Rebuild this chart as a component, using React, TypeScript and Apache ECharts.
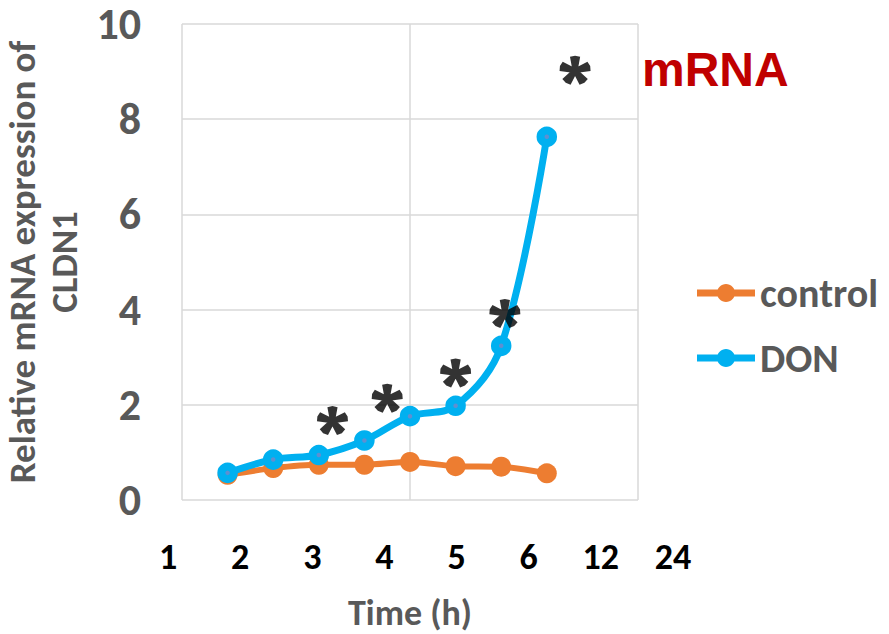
import React, { useEffect, useRef } from "react";
import * as echarts from "echarts";

// ---- data ----
const timeLabels = ["1", "2", "3", "4", "5", "6", "12", "24"];
const timeIndex = [1, 2, 3, 4, 5, 6, 7, 8];
const controlValues = [0.53, 0.67, 0.74, 0.74, 0.8, 0.71, 0.7, 0.56];
const donValues = [0.57, 0.85, 0.945, 1.25, 1.76, 1.98, 3.24, 7.63];
const starX = [3.3, 4.5, 6.0, 7.08, 8.62];
const starY = [1.67, 2.14, 2.67, 3.92, 9.03];

const FONT = "Carlito, Lato, sans-serif";
const WEIGHT = "bold";
const GRID_COLOR = "#D9D9D9";
const LABEL_GRAY = "#595959";

type Pt = number[];

function toPath(polys: Pt[][]): string {
  const area = (p: Pt[]) => {
    let s = 0;
    for (let i = 0; i < p.length; i++) {
      const a = p[i];
      const b = p[(i + 1) % p.length];
      s += a[0] * b[1] - b[0] * a[1];
    }
    return s;
  };
  return polys
    .map((p) => (area(p) < 0 ? p.slice().reverse() : p))
    .map(
      (p) =>
        "M" +
        p.map((q) => q[0].toFixed(2) + " " + q[1].toFixed(2)).join(" L") +
        " Z"
    )
    .join(" ");
}

function circlePoly(cx: number, cy: number, r: number, n: number): Pt[] {
  const out: Pt[] = [];
  for (let k = 0; k < n; k++) {
    const t = (k * 2 * Math.PI) / n;
    out.push([cx + Math.cos(t) * r, cy + Math.sin(t) * r]);
  }
  return out;
}

function asteriskPath(): string {
  const cx = 50;
  const cy = 50;
  const polys: Pt[][] = [];
  for (let k = 0; k < 5; k++) {
    const t = (k * 72 * Math.PI) / 180;
    const dx = Math.sin(t);
    const dy = -Math.cos(t);
    const px = Math.cos(t);
    const py = Math.sin(t);
    const near = 8;
    const far = 16;
    const L = 46;
    polys.push([
      [cx + px * near, cy + py * near],
      [cx + dx * L + px * far, cy + dy * L + py * far],
      [cx + dx * (L + 4), cy + dy * (L + 4)],
      [cx + dx * L - px * far, cy + dy * L - py * far],
      [cx - px * near, cy - py * near],
    ]);
  }
  polys.push(circlePoly(cx, cy, 14, 20));
  return toPath(polys);
}

// legend icon: horizontal bar with a disc in the middle (58 x 18 box)
function legendIconPath(): string {
  const bar: Pt[] = [
    [0, 5.5],
    [58, 5.5],
    [58, 12.5],
    [0, 12.5],
  ];
  return toPath([bar, circlePoly(29, 9, 9, 32)]);
}

export default function App() {
  const ref = useRef<HTMLDivElement>(null);

  useEffect(() => {
    if (!ref.current) return;
    const chart = echarts.init(ref.current, null, { renderer: "svg" });
    const star = "path://" + asteriskPath();
    const legendIcon = "path://" + legendIconPath();

    const option: any = {
      animation: false,
      backgroundColor: "#ffffff",
      title: {
        text: "mRNA",
        left: 642,
        top: 45,
        padding: 0,
        textStyle: {
          color: "#C00000",
          fontSize: 48,
          fontWeight: "bold",
          fontFamily: "Liberation Sans",
        },
      },
      legend: {
        orient: "vertical",
        left: 697,
        top: 273,
        padding: 0,
        itemWidth: 58,
        itemHeight: 18,
        itemGap: 25,
        icon: legendIcon,
        textStyle: {
          fontFamily: FONT,
          fontWeight: WEIGHT,
          fontSize: 40,
          lineHeight: 40,
          color: LABEL_GRAY,
        },
        data: [
          { name: "control", icon: legendIcon, itemStyle: { color: "#ED7D31", borderWidth: 0 } },
          { name: "DON", icon: legendIcon, itemStyle: { color: "#00B0F0", borderWidth: 0 } },
        ],
      },
      grid: [
        {
          left: 182,
          top: 24,
          width: 456,
          height: 476,
          containLabel: false,
          outerBoundsMode: "none",
        },
        {
          left: 132,
          top: 520,
          width: 577,
          height: 20,
          containLabel: false,
          outerBoundsMode: "none",
        },
      ],
      xAxis: [
        {
          gridIndex: 0,
          type: "value",
          min: 0,
          max: 10,
          interval: 5,
          axisLine: { show: false },
          axisTick: { show: false },
          axisLabel: { show: false },
          splitLine: { show: true, lineStyle: { color: GRID_COLOR, width: 1.5 } },
          name: "Time (h)",
          nameLocation: "middle",
          nameGap: 96,
          nameTextStyle: {
            fontFamily: FONT,
            fontWeight: WEIGHT,
            fontSize: 36,
            lineHeight: 34,
            color: LABEL_GRAY,
          },
        },
        {
          gridIndex: 1,
          type: "category",
          data: timeLabels,
          boundaryGap: true,
          axisLine: { show: false },
          axisTick: { show: false },
          splitLine: { show: false },
          axisLabel: {
            margin: 17,
            verticalAlign: "middle",
            color: "#000000",
            fontSize: 36,
            fontWeight: WEIGHT,
            fontFamily: FONT,
          },
        },
      ],
      yAxis: [
        {
          gridIndex: 0,
          type: "value",
          min: 0,
          max: 10,
          interval: 2,
          axisLine: { show: false },
          axisTick: { show: false },
          axisLabel: {
            margin: 41,
            color: LABEL_GRAY,
            fontSize: 44,
            lineHeight: 36,
            fontWeight: WEIGHT,
            fontFamily: FONT,
          },
          splitLine: { show: true, lineStyle: { color: GRID_COLOR, width: 1.5 } },
          name: "Relative mRNA expression of\nCLDN1",
          nameLocation: "middle",
          nameRotate: 90,
          nameGap: 89,
          nameTextStyle: {
            fontFamily: FONT,
            fontWeight: WEIGHT,
            fontSize: 37,
            lineHeight: 42,
            color: LABEL_GRAY,
            align: "center",
          },
        },
        { gridIndex: 1, type: "value", show: false, min: 0, max: 1 },
      ],
      series: [
        {
          name: "control",
          type: "line",
          xAxisIndex: 0,
          yAxisIndex: 0,
          data: timeIndex.map((x, i) => [x, controlValues[i]]),
          smooth: 0.3,
          symbol: "circle",
          symbolSize: 20,
          lineStyle: { color: "#ED7D31", width: 6 },
          itemStyle: { color: "#ED7D31" },
          z: 2,
        },
        {
          name: "DON",
          type: "line",
          xAxisIndex: 0,
          yAxisIndex: 0,
          data: timeIndex.map((x, i) => [x, donValues[i]]),
          smooth: 0.35,
          symbol: "circle",
          symbolSize: 12.5,
          lineStyle: { color: "#00B0F0", width: 7 },
          itemStyle: { color: "#5F8FD0", borderColor: "#00B0F0", borderWidth: 8 },
          z: 3,
        },
        {
          name: "stars",
          type: "scatter",
          xAxisIndex: 0,
          yAxisIndex: 0,
          data: starX.map((x, i) => [x, starY[i]]),
          symbol: star,
          symbolSize: [31, 29],
          itemStyle: { color: "#000000" },
          z: 4,
        },
      ],
    };

    chart.setOption(option);
    return () => chart.dispose();
  }, []);

  return (
    <div
      ref={ref}
      style={{ position: "absolute", left: 0, top: 0, width: 889, height: 634 }}
    />
  );
}
